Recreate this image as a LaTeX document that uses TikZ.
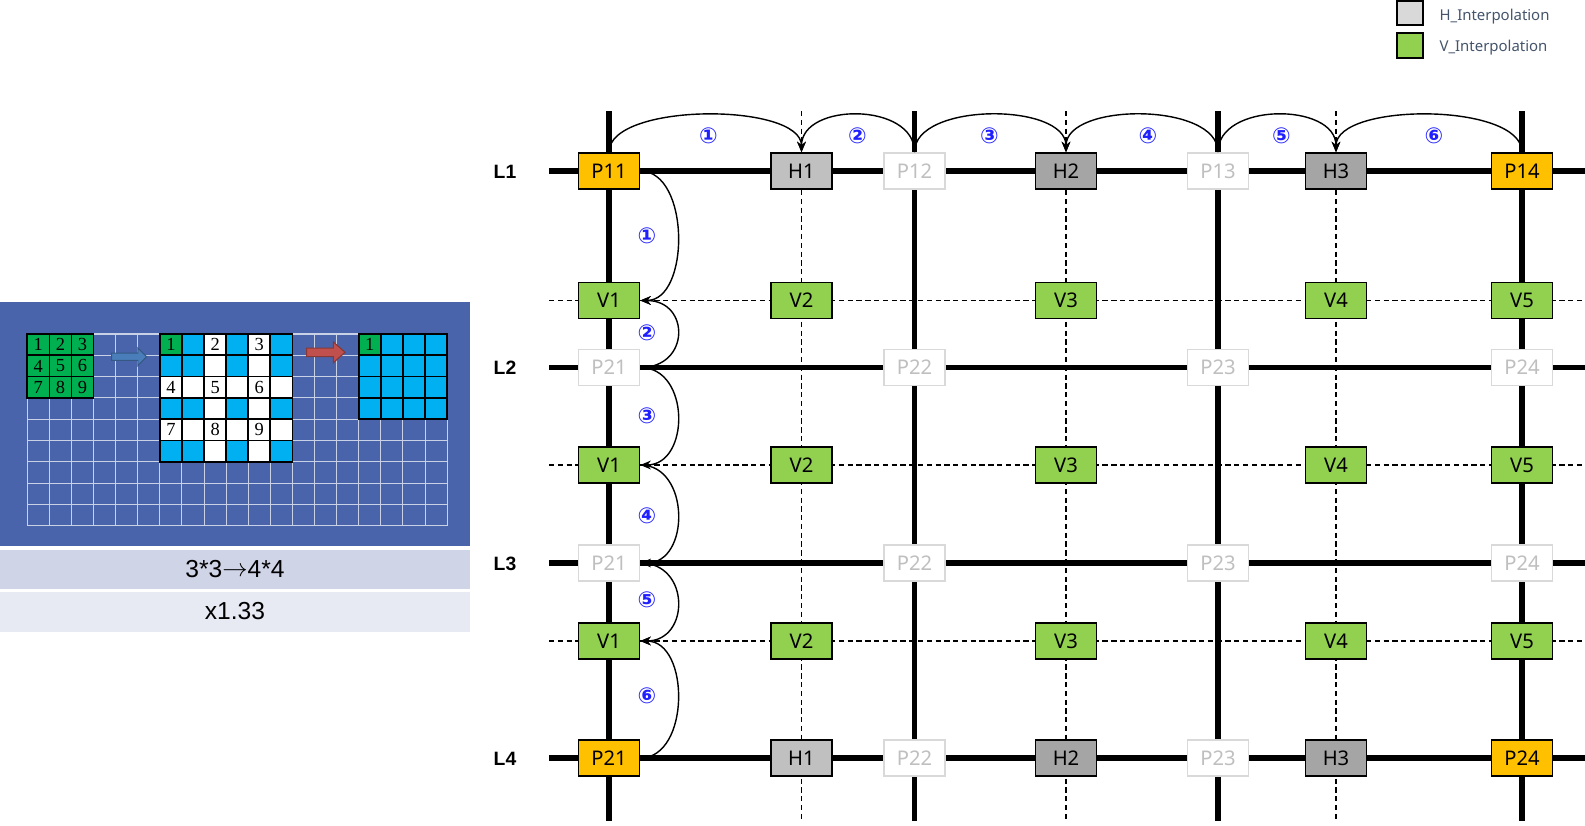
\documentclass[tikz,border=0pt]{standalone}
\usepackage{fontspec}
\setmainfont{Noto Sans}
\newfontfamily\arialfont{Liberation Sans}
\newfontfamily\timesfont{Liberation Serif}
\newfontfamily\circfont{DejaVu Sans}
\usepackage{tikz}
\usetikzlibrary{positioning,arrows,arrows.meta}
\tikzstyle{box} = [draw=black, line width=0.9pt, minimum width=1.22cm, minimum height=0.72cm, inner sep=0pt, font=\fontsize{11.5}{13}\selectfont]
\tikzstyle{pbox} = [box, fill=porange]
\tikzstyle{vbox} = [box, fill=vgreen]
\tikzstyle{hbox} = [box, fill=hdark]
\tikzstyle{fadebox} = [box, draw=fadeline, line width=1.1pt, fill=white, text=fadetext]
\tikzstyle{thickline} = [line width=3.2pt]
\tikzstyle{dashline} = [line width=0.8pt, dash pattern=on 3pt off 2pt]
\tikzstyle{arrow} = [thick,->,>={Stealth[length=6pt,width=5pt]}]
\tikzstyle{circnum} = [text=numblue, inner sep=0pt, font=\circfont\bfseries\fontsize{12.5}{14}\selectfont]
\tikzstyle{lname} = [font=\arialfont\bfseries\fontsize{11}{13}\selectfont]
\tikzstyle{gridline} = [line width=0.6pt, color=white!70!panelblue]
\tikzstyle{cellline} = [line width=1pt, draw=black]
\tikzstyle{cellnum} = [inner sep=0pt, font=\timesfont\fontsize{10.5}{12}\selectfont]

\begin{document}
\begin{tikzpicture}[x=0.02cm, y=-0.02cm]
\definecolor{porange}{HTML}{FFC000}
\definecolor{vgreen}{HTML}{92D050}
\definecolor{hlight}{HTML}{C0C0C0}
\definecolor{hdark}{HTML}{A5A5A5}
\definecolor{keygray}{HTML}{D9D9D9}
\definecolor{fadeline}{HTML}{D9D9D9}
\definecolor{fadetext}{HTML}{BFBFBF}
\definecolor{numblue}{HTML}{1F1FFF}
\definecolor{keytext}{HTML}{44546A}
\definecolor{panelblue}{HTML}{4964AA}
\definecolor{bandone}{HTML}{CFD4E7}
\definecolor{bandtwo}{HTML}{E7E9F3}
\definecolor{cellgreen}{HTML}{00B050}
\definecolor{cellblue}{HTML}{00B0F0}
\definecolor{arrowblue}{HTML}{4A7EBB}
\definecolor{arrowred}{HTML}{C0504D}
\useasboundingbox (0,0) rectangle (1585,825);

% left panel: 3*3 -> 4*4
\fill[panelblue] (0,301.5) rectangle (470,545.5);
\fill[bandone] (0,550) rectangle (470,589);
\fill[bandtwo] (0,592) rectangle (470,632);
\node[font=\arialfont\fontsize{14}{16}\selectfont] (ratio) at (235,569.5) {3*3\raisebox{1pt}{$\rightarrow$}4*4};
\node[font=\arialfont\fontsize{14}{16}\selectfont] (scale) at (235,611.5) {x1.33};
\begin{scope}[shift={(27.3,334)}, x=0.442cm, y=-0.426cm]
\foreach \i in {0,...,19} \draw[gridline] (\i,0) -- (\i,9);
\foreach \j in {0,...,9} \draw[gridline] (0,\j) -- (19,\j);
% input 3x3
\foreach \c in {0,1,2} \foreach \r in {0,1,2} \draw[cellline, fill=cellgreen] (\c,\r) rectangle ++(1,1);
\foreach \c/\r/\n in {0/0/1,1/0/2,2/0/3,0/1/4,1/1/5,2/1/6,0/2/7,1/2/8,2/2/9}
  \node[cellnum] (in\n) at (\c+0.5,\r+0.5) {\n};
% spread 6x6
\fill[cellblue] (6,0) rectangle (12,6);
\fill[white] (8,0) rectangle (9,6);
\fill[white] (10,0) rectangle (11,6);
\fill[white] (6,2) rectangle (12,3);
\fill[white] (6,4) rectangle (12,5);
\fill[cellgreen] (6,0) rectangle (7,1);
\foreach \c in {6,...,11} \foreach \r in {0,...,5} \draw[cellline] (\c,\r) rectangle ++(1,1);
\foreach \c/\r/\n in {6/0/1,8/0/2,10/0/3,6/2/4,8/2/5,10/2/6,6/4/7,8/4/8,10/4/9}
  \node[cellnum] (mid\n) at (\c+0.5,\r+0.5) {\n};
% output 4x4
\fill[cellblue] (15,0) rectangle (19,4);
\fill[cellgreen] (15,0) rectangle (16,1);
\foreach \c in {15,...,18} \foreach \r in {0,...,3} \draw[cellline] (\c,\r) rectangle ++(1,1);
\node[cellnum] (out1) at (15.5,0.5) {1};
% block arrows
\filldraw[fill=arrowblue, draw=arrowblue!70!black, line width=0.6pt] (3.82,0.9) -- (5.0,0.9) -- (5.0,0.65) -- (5.4,1.07) -- (5.0,1.49) -- (5.0,1.24) -- (3.82,1.24) -- cycle;
\filldraw[fill=arrowred, draw=arrowred!70!black, line width=0.6pt] (12.64,0.66) -- (13.85,0.66) -- (13.85,0.37) -- (14.38,0.86) -- (13.85,1.35) -- (13.85,1.06) -- (12.64,1.06) -- cycle;
\end{scope}

% legend
\node[draw=black, line width=1.1pt, fill=keygray, minimum width=0.53cm, minimum height=0.49cm] (hkey) at (1410,12.8) {};
\node[draw=black, line width=1.1pt, fill=vgreen, minimum width=0.53cm, minimum height=0.49cm] (vkey) at (1410,45.3) {};
\node[right=0.3cm of hkey, yshift=-2.3pt, inner sep=0pt, text=keytext, font=\fontsize{8.5}{10}\selectfont] (hkeytext) {H\_Interpolation};
\node[right=0.3cm of vkey, yshift=-1.5pt, inner sep=0pt, text=keytext, font=\fontsize{8.5}{10}\selectfont] (vkeytext) {V\_Interpolation};

% grid
\draw[dashline] (549,300.5) -- (1585,300.5);
\draw[dashline] (549,465) -- (1585,465);
\draw[dashline] (549,641) -- (1585,641);
\draw[dashline] (801.5,111) -- (801.5,821);
\draw[dashline] (1066,111) -- (1066,821);
\draw[dashline] (1336,111) -- (1336,821);
\draw[thickline] (549,171) -- (1585,171);
\draw[thickline] (549,367.5) -- (1585,367.5);
\draw[thickline] (549,563) -- (1585,563);
\draw[thickline] (549,758) -- (1585,758);
\draw[thickline] (609,111) -- (609,821);
\draw[thickline] (914.5,111) -- (914.5,821);
\draw[thickline] (1218,111) -- (1218,821);
\draw[thickline] (1522,111) -- (1522,821);

\node[lname] (L1) at (505,172) {L1};
\node[lname] (L2) at (505,368) {L2};
\node[lname] (L3) at (505,564) {L3};
\node[lname] (L4) at (505,759) {L4};

% L1
\node[pbox] (P11) at (609,171) {P11};
\node[hbox, fill=hlight] (H1) at (801.5,171) {H1};
\node[fadebox] (P12) at (914.5,171) {P12};
\node[hbox] (H2) at (1066,171) {H2};
\node[fadebox] (P13) at (1218,171) {P13};
\node[hbox] (H3) at (1336,171) {H3};
\node[pbox] (P14) at (1522,171) {P14};
% V row 1
\node[vbox] (V1a) at (609,300.5) {V1};
\node[vbox] (V2a) at (801.5,300.5) {V2};
\node[vbox] (V3a) at (1066,300.5) {V3};
\node[vbox] (V4a) at (1336,300.5) {V4};
\node[vbox] (V5a) at (1522,300.5) {V5};
% L2
\node[fadebox] (P21b) at (609,367.5) {P21};
\node[fadebox] (P22b) at (914.5,367.5) {P22};
\node[fadebox] (P23b) at (1218,367.5) {P23};
\node[fadebox] (P24b) at (1522,367.5) {P24};
% V row 2
\node[vbox] (V1b) at (609,465) {V1};
\node[vbox] (V2b) at (801.5,465) {V2};
\node[vbox] (V3b) at (1066,465) {V3};
\node[vbox] (V4b) at (1336,465) {V4};
\node[vbox] (V5b) at (1522,465) {V5};
% L3
\node[fadebox] (P21c) at (609,563) {P21};
\node[fadebox] (P22c) at (914.5,563) {P22};
\node[fadebox] (P23c) at (1218,563) {P23};
\node[fadebox] (P24c) at (1522,563) {P24};
% V row 3
\node[vbox] (V1c) at (609,641) {V1};
\node[vbox] (V2c) at (801.5,641) {V2};
\node[vbox] (V3c) at (1066,641) {V3};
\node[vbox] (V4c) at (1336,641) {V4};
\node[vbox] (V5c) at (1522,641) {V5};
% L4
\node[pbox] (P21d) at (609,758) {P21};
\node[hbox, fill=hlight] (H1d) at (801.5,758) {H1};
\node[fadebox] (P22d) at (914.5,758) {P22};
\node[hbox] (H2d) at (1066,758) {H2};
\node[fadebox] (P23d) at (1218,758) {P23};
\node[hbox] (H3d) at (1336,758) {H3};
\node[pbox] (P24d) at (1522,758) {P24};

% horizontal steps
\draw[arrow] (P11.north) .. controls +(0,-50) and +(0,-50) .. (H1.north);
\draw[arrow] (P12.north) .. controls +(0,-50) and +(0,-50) .. (H1.north);
\draw[arrow] (P12.north) .. controls +(0,-50) and +(0,-50) .. (H2.north);
\draw[arrow] (P13.north) .. controls +(0,-50) and +(0,-50) .. (H2.north);
\draw[arrow] (P13.north) .. controls +(0,-50) and +(0,-50) .. (H3.north);
\draw[arrow] (P14.north) .. controls +(0,-50) and +(0,-50) .. (H3.north);
\node[circnum] (h1) at (708.5,136) {①};
\node[circnum] (h2) at (857.5,136) {②};
\node[circnum] (h3) at (989.5,136) {③};
\node[circnum] (h4) at (1148,136) {④};
\node[circnum] (h5) at (1281.5,136) {⑤};
\node[circnum] (h6) at (1434,136) {⑥};

% vertical steps
\draw[arrow] (P11.east) .. controls +(50,0) and +(50,0) .. (V1a.east);
\draw[arrow] (P21b.east) .. controls +(50,0) and +(50,0) .. (V1a.east);
\draw[arrow] (P21b.east) .. controls +(50,0) and +(50,0) .. (V1b.east);
\draw[arrow] (V1b.east) .. controls +(50,0) and +(50,0) .. (P21c.east);
\draw[arrow] (P21c.east) .. controls +(50,0) and +(50,0) .. (V1c.east);
\draw[arrow] (P21d.east) .. controls +(50,0) and +(50,0) .. (V1c.east);
\node[circnum] (v1) at (647,235.5) {①};
\node[circnum] (v2) at (647,332.5) {②};
\node[circnum] (v3) at (647,416) {③};
\node[circnum] (v4) at (647,515.5) {④};
\node[circnum] (v5) at (647,600) {⑤};
\node[circnum] (v6) at (647,696) {⑥};
\end{tikzpicture}
\end{document}
